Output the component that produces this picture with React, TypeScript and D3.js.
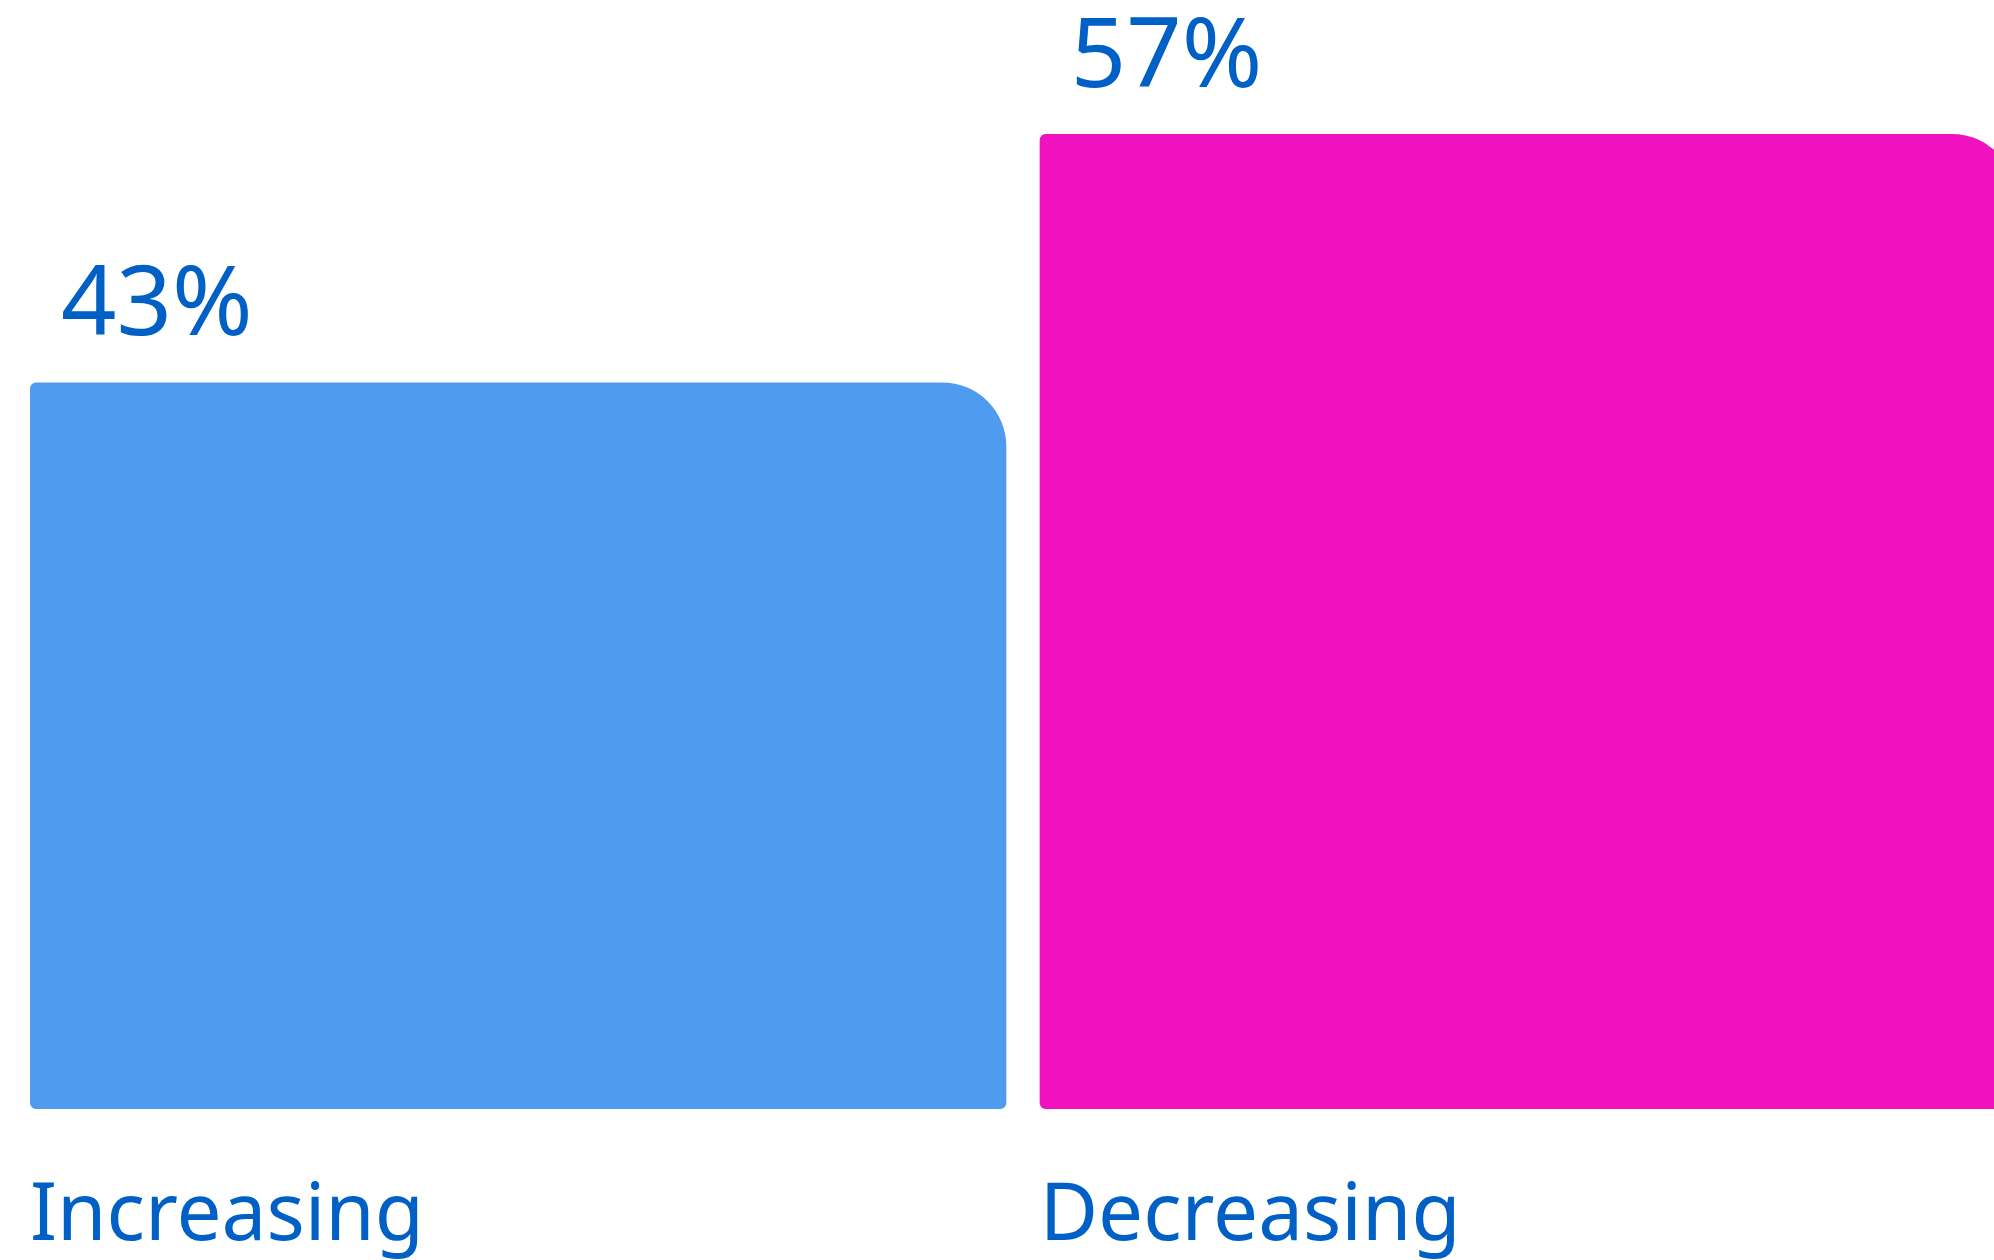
import React from "react";
import * as d3 from "d3";

const categories = ["Increasing", "Decreasing"];
const values = [42.7, 57.3];
const colors = ["#4f9bef", "#f012be"];

const W = 1994;
const H = 1260;

function barPath(x: number, y: number, w: number, h: number, rBig: number, r: number) {
  const p = d3.path();
  p.moveTo(x + r, y);
  p.lineTo(x + w - rBig, y);
  p.arcTo(x + w, y, x + w, y + rBig, rBig);
  p.lineTo(x + w, y + h - r);
  p.arcTo(x + w, y + h, x + w - r, y + h, r);
  p.lineTo(x + r, y + h);
  p.arcTo(x, y + h, x, y + h - r, r);
  p.lineTo(x, y + r);
  p.arcTo(x, y, x + r, y, r);
  p.closePath();
  return p.toString();
}

export default function App() {
  const x = d3.scaleBand<string>().domain(categories).range([30, 2016]).paddingInner(0.033).paddingOuter(0);
  const y = d3.scaleLinear().domain([0, 60]).range([1109, 88]);
  const fmt = d3.format(".0f");
  const font = "'Noto Sans', 'Open Sans', sans-serif";
  return (
    <svg width={W} height={H} style={{ position: "absolute", left: 0, top: 0, background: "#fff" }}>
      {categories.map((c, i) => {
        const bx = x(c)!;
        const bw = x.bandwidth();
        const by = y(values[i]);
        const bh = y(0) - by;
        return (
          <g key={c}>
            <path d={barPath(bx, by, bw, bh, 64, 6)} fill={colors[i]} />
            <text x={bx + 31} y={by - 47} fontFamily={font} fontSize={97} fill="#0060c6">
              {fmt(values[i])}%
            </text>
            <text x={bx} y={1240} fontFamily={font} fontSize={80} fill="#0060c6">
              {c}
            </text>
          </g>
        );
      })}
    </svg>
  );
}
